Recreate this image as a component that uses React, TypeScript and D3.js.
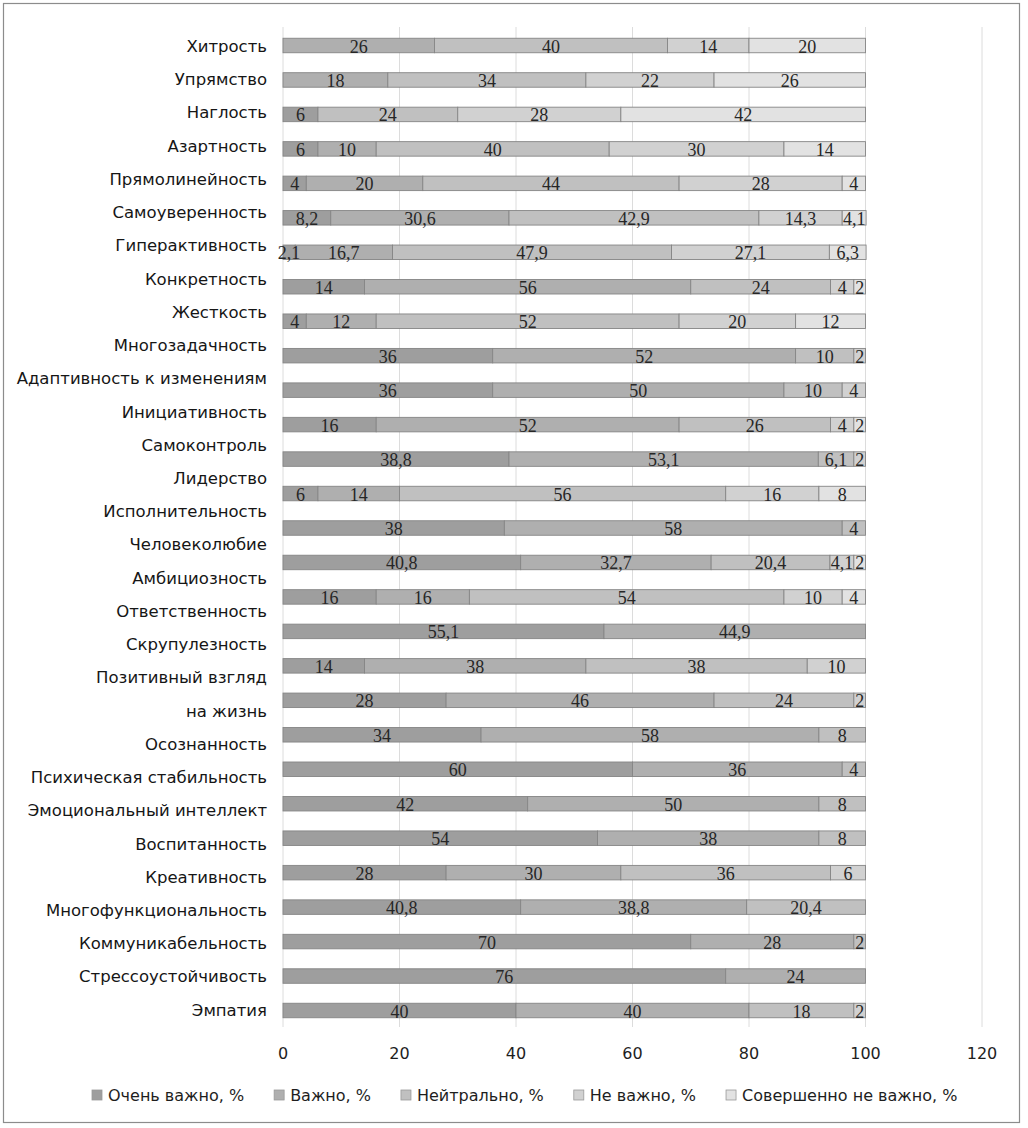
import React, { useMemo } from "react";
import * as d3 from "d3";

const categories = [
  "Хитрость", "Упрямство", "Наглость", "Азартность", "Прямолинейность",
  "Самоуверенность", "Гиперактивность", "Конкретность", "Жесткость", "Многозадачность",
  "Адаптивность к изменениям", "Инициативность", "Самоконтроль", "Лидерство", "Исполнительность",
  "Человеколюбие", "Амбициозность", "Ответственность", "Скрупулезность", "Позитивный взгляд\nна жизнь",
  "Осознанность", "Психическая стабильность", "Эмоциональный интеллект", "Воспитанность", "Креативность",
  "Многофункциональность", "Коммуникабельность", "Стрессоустойчивость", "Эмпатия",
];

const seriesNames = [
  "Очень важно, %", "Важно, %", "Нейтрально, %", "Не важно, %", "Совершенно не важно, %",
];

const veryImportant = [0, 0, 6, 6, 4, 8.2, 2.1, 14, 4, 36, 36, 16, 38.8, 6, 38, 40.8, 16, 55.1, 14, 28, 34, 60, 42, 54, 28, 40.8, 70, 76, 40];
const important = [26, 18, 0, 10, 20, 30.6, 16.7, 56, 12, 52, 50, 52, 53.1, 14, 58, 32.7, 16, 44.9, 38, 46, 58, 36, 50, 38, 30, 38.8, 28, 24, 40];
const neutral = [40, 34, 24, 40, 44, 42.9, 47.9, 24, 52, 10, 10, 26, 6.1, 56, 4, 20.4, 54, 0, 38, 24, 8, 4, 8, 8, 36, 20.4, 2, 0, 18];
const notImportant = [14, 22, 28, 30, 28, 14.3, 27.1, 4, 20, 2, 4, 4, 2, 16, 0, 4.1, 10, 0, 10, 2, 0, 0, 0, 0, 6, 0, 0, 0, 2];
const notAtAll = [20, 26, 42, 14, 4, 4.1, 6.3, 2, 12, 0, 0, 2, 0, 8, 0, 2, 4, 0, 0, 0, 0, 0, 0, 0, 0, 0, 0, 0, 0];

const xTicks = [0, 20, 40, 60, 80, 100, 120];

const colors = ["#9e9e9e", "#afafaf", "#c0c0c0", "#d1d1d1", "#e2e2e2"];

const LEGEND_FONT = "16px 'DejaVu Sans'";

function measure(text: string): number {
  const c = document.createElement("canvas").getContext("2d");
  if (!c) return text.length * 9;
  c.font = LEGEND_FONT;
  return c.measureText(text).width;
}

export default function App() {
  const W = 1028;
  const H = 1128;
  const seriesValues = [veryImportant, important, neutral, notImportant, notAtAll];

  const table = categories.map((c, i) => {
    const row: any = { cat: c };
    seriesNames.forEach((s, k) => (row[s] = seriesValues[k][i]));
    return row;
  });

  const stacked = d3.stack<any>().keys(seriesNames)(table);

  const x = d3.scaleLinear().domain([0, 120]).range([283, 982]);
  const y = d3.scalePoint<string>().domain(categories).range([45.5, 1010.5]);
  const barH = 14.5;

  const labelLines = categories.flatMap((c) => c.split("\n"));
  const yl = d3.scalePoint<number>().domain(labelLines.map((_, i) => i)).range([46, 1009.7]);

  const fmt = (v: number) => String(v).replace(".", ",");

  const legendLayout = useMemo(() => {
    let cx = 92;
    return seriesNames.map((s) => {
      const item = { s, x: cx };
      cx += 16 + measure(s) + 30;
      return item;
    });
  }, []);

  return (
    <svg
      width={W}
      height={H}
      style={{ position: "absolute", left: 0, top: 0, background: "#fff" }}
      fontFamily="'DejaVu Sans', sans-serif"
    >
      <rect x={0} y={0} width={W} height={H} fill="#fff" />
      <rect x={3.5} y={3.5} width={1016} height={1119} fill="none" stroke="#8c8c8c" strokeWidth={1.2} />
      {xTicks.map((t) => (
        <line key={t} x1={x(t)} x2={x(t)} y1={27} y2={1027} stroke="#dcdcdc" strokeWidth={1} />
      ))}
      {stacked.map((layer, k) => (
        <g key={layer.key}>
          {layer.map((d, i) =>
            d[1] - d[0] > 0 ? (
              <rect
                key={i}
                x={x(d[0])}
                y={(y(categories[i]) as number) - barH / 2}
                width={x(d[1]) - x(d[0])}
                height={barH}
                fill={colors[k]}
                stroke="#858585"
                strokeWidth={0.9}
              />
            ) : null
          )}
        </g>
      ))}
      {stacked.map((layer) => (
        <g key={"t" + layer.key} fontFamily="'Liberation Serif', 'DejaVu Serif', serif" fontSize={18} fill="#262626">
          {layer.map((d, i) => {
            const v = d[1] - d[0];
            if (!(v > 0)) return null;
            return (
              <text
                key={i}
                x={x((d[0] + d[1]) / 2)}
                y={(y(categories[i]) as number) + 7}
                textAnchor="middle"
              >
                {fmt(+v.toFixed(1))}
              </text>
            );
          })}
        </g>
      ))}
      <g fontSize={16.5} fill="#161616">
        {labelLines.map((l, i) => (
          <text key={i} x={267} y={(yl(i) as number) + 6} textAnchor="end">
            {l}
          </text>
        ))}
      </g>
      <g fontSize={16} fill="#1e1e1e">
        {xTicks.map((t) => (
          <text key={t} x={x(t)} y={1059} textAnchor="middle">
            {t}
          </text>
        ))}
      </g>
      <g fontSize={16} fill="#1e1e1e">
        {legendLayout.map((it, k) => (
          <g key={it.s}>
            <rect x={it.x} y={1090} width={10} height={10} fill={colors[k]} stroke="#9a9a9a" strokeWidth={0.8} />
            <text x={it.x + 16} y={1101}>
              {it.s}
            </text>
          </g>
        ))}
      </g>
    </svg>
  );
}
